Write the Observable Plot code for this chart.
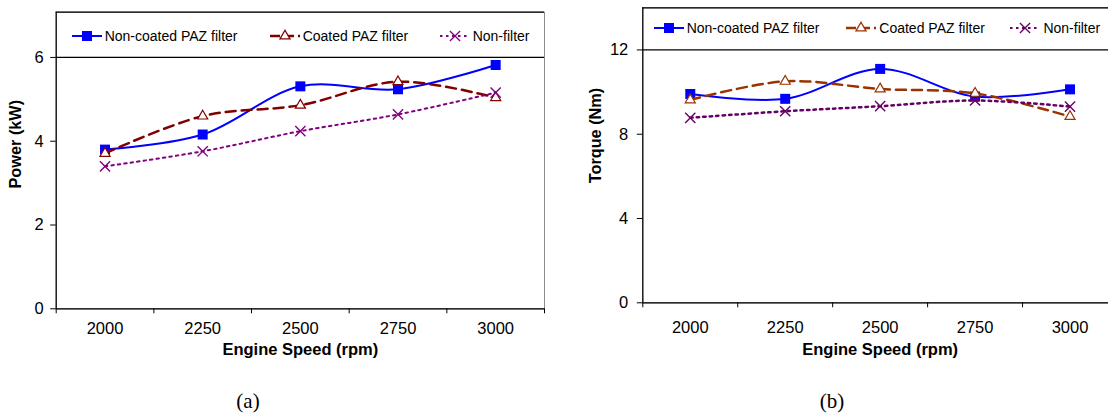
<!DOCTYPE html>
<html><head><meta charset="utf-8">
<script src="https://cdn.jsdelivr.net/npm/d3@7"></script>
<script src="https://cdn.jsdelivr.net/npm/@observablehq/plot@0.6"></script>
<style>
body{margin:0;background:#fff;overflow:hidden}
#wrap{position:relative;width:1108px;height:415px;overflow:hidden;font-family:"Liberation Sans",Arial,sans-serif;background:#fff}
.panel{position:absolute;top:0}
.leg{position:absolute;height:16px;line-height:16px;font-size:14px;display:flex;align-items:center;white-space:nowrap;color:#000}
.leg svg{margin-right:3px}
.cap{position:absolute;font-family:"Liberation Serif","Times New Roman",serif;font-size:21px;transform:translate(-50%,-50%);white-space:nowrap}
</style></head><body><div id="wrap"></div>
<script>
// ---- data ----
const speeds = [2000, 2250, 2500, 2750, 3000];
const seriesNames = ["Non-coated PAZ filter", "Coated PAZ filter", "Non-filter"];
const powerNonCoated = [3.80, 4.16, 5.31, 5.24, 5.82];
const powerCoated    = [3.71, 4.60, 4.86, 5.42, 5.04];
const powerNonFilter = [3.40, 3.76, 4.24, 4.64, 5.16];
const torqueNonCoated = [9.91, 9.68, 11.10, 9.79, 10.13];
const torqueCoated    = [9.63, 10.51, 10.15, 9.94, 8.84];
const torqueNonFilter = [8.78, 9.09, 9.33, 9.60, 9.31];
const powerTicks = [0, 2, 4, 6];
const torqueTicks = [0, 4, 8, 12];
const xTitle = "Engine Speed (rpm)";
const powerTitle = "Power (kW)";
const torqueTitle = "Torque (Nm)";
const captions = ["(a)", "(b)"];

const wrap = document.getElementById("wrap");
const step = speeds[1] - speeds[0];
const xDomain = [speeds[0] - step / 2, speeds[speeds.length - 1] + step / 2];
const boundaries = d3.range(xDomain[0], xDomain[1] + 1, step);

function rows(values, name) {
  return speeds.map((s, i) => ({speed: s, value: values[i], series: name}));
}

function makePanel(o) {
  const [a, b, c] = o.series;
  const dA = rows(a, seriesNames[0]), dB = rows(b, seriesNames[1]), dC = rows(c, seriesNames[2]);
  const yTop = o.yDomain[1];
  const chart = Plot.plot({
    width: o.width, height: 415,
    marginLeft: o.ml, marginRight: o.mr, marginTop: o.mt, marginBottom: o.mb,
    style: {fontFamily: '"Liberation Sans", Arial, sans-serif', fontSize: "16.5px", color: "#000", background: "transparent"},
    x: {type: "linear", domain: xDomain, axis: null},
    y: {domain: o.yDomain, axis: null},
    marks: [
      Plot.frame({stroke: "#8c8c8c"}),
      Plot.ruleY([yTop], {stroke: "#000", strokeWidth: 1.2}),
      Plot.ruleY([o.legendLine], {stroke: "#000", strokeWidth: 1.2}),
      Plot.ruleX([xDomain[0]], {stroke: "#000", strokeWidth: 1.2}),
      Plot.ruleY([0], {stroke: "#000", strokeWidth: 1.2}),
      Plot.axisX({ticks: boundaries, tickSize: 5, tickFormat: () => "", label: null, stroke: "#000"}),
      Plot.axisX({ticks: speeds, tickSize: 0, tickPadding: o.xPad, tickFormat: d3.format("d"), label: null, fontSize: 16.5}),
      Plot.axisY({ticks: o.yTicks, tickSize: 5.5, tickPadding: o.yPad, label: null, fontSize: 16.5, stroke: "#000"}),
      Plot.text([xTitle], {text: d => d, frameAnchor: "bottom", dy: o.xTitleDy, fontWeight: "bold", fontSize: 16.5}),
      Plot.text([o.yTitle], {text: d => d, frameAnchor: "left", rotate: -90, dx: o.yTitleDx, dy: o.yTitleDy, fontWeight: "bold", fontSize: 16.3}),
      Plot.line(dA, {x: "speed", y: "value", stroke: "#0000ff", strokeWidth: 2, curve: "catmull-rom"}),
      Plot.dot(dA, {x: "speed", y: "value", symbol: "square", r: 5.64, fill: "#0000ff", stroke: "none"}),
      Plot.line(dB, {x: "speed", y: "value", stroke: o.colB, strokeWidth: 2.5, strokeDasharray: "10,6", curve: "catmull-rom"}),
      Plot.dot(dB, {x: "speed", y: "value", symbol: "triangle2", r: 4.8, fill: "#fff", stroke: o.colB, strokeWidth: 1.2}),
      Plot.line(dC, {x: "speed", y: "value", stroke: o.colC, strokeWidth: o.cw, strokeDasharray: "2.5,4", curve: "catmull-rom"}),
      Plot.dot(dC, {x: "speed", y: "value", symbol: "times", r: 4.7, stroke: o.colC, strokeWidth: 1.4})
    ]
  });
  chart.classList.add("panel");
  chart.style.left = o.left + "px";
  wrap.appendChild(chart);

  // legend (HTML overlay inside the box)
  const styles = [
    {color: "#0000ff", dash: null, sym: d3.symbolSquare, size: 100, fill: "#0000ff", stroke: "none", w: 2},
    {color: o.colB, dash: "10,4", sym: d3.symbolTriangle2, size: 72, fill: "#fff", stroke: o.colB, w: 2.5},
    {color: o.colC, dash: "2.5,3.5", sym: d3.symbolTimes, size: 69, fill: "none", stroke: o.colC, w: 2}
  ];
  seriesNames.forEach((name, i) => {
    const s = styles[i];
    const div = document.createElement("div");
    div.className = "leg";
    div.style.left = o.legX[i] + "px";
    div.style.top = (o.legY - 8) + "px";
    const svg = d3.create("svg").attr("width", 30).attr("height", 16);
    svg.append("line").attr("x1", 0).attr("x2", 30).attr("y1", 8).attr("y2", 8)
      .attr("stroke", s.color).attr("stroke-width", s.w).attr("stroke-dasharray", s.dash);
    svg.append("path").attr("transform", "translate(15,8)").attr("d", d3.symbol(s.sym, s.size)())
      .attr("fill", s.fill).attr("stroke", s.stroke).attr("stroke-width", 1.3);
    div.appendChild(svg.node());
    div.appendChild(document.createTextNode(name));
    wrap.appendChild(div);
  });
  const cap = document.createElement("div");
  cap.className = "cap";
  cap.textContent = o.caption;
  cap.style.left = o.capX + "px";
  cap.style.top = "401px";
  wrap.appendChild(cap);
}

makePanel({
  left: 0, width: 560, ml: 55.7, mr: 16, mt: 11.7, mb: 106.7,
  series: [powerNonCoated, powerCoated, powerNonFilter],
  yDomain: [0, 7.08], yTicks: powerTicks, legendLine: powerTicks[3],
  yTitle: powerTitle, xPad: 13, yPad: 7, xTitleDy: 46, yTitleDx: -40.7, yTitleDy: 28,
  colB: "#800000", colC: "#800080", cw: 2,
  legX: [71.7, 269.7, 439.7], legY: 36, caption: captions[0], capX: 248
});
makePanel({
  left: 560, width: 560, ml: 82.3, mr: 3, mt: 7.3, mb: 112.7,
  series: [torqueNonCoated, torqueCoated, torqueNonFilter],
  yDomain: [0, 14], yTicks: torqueTicks, legendLine: torqueTicks[3],
  yTitle: torqueTitle, xPad: 18, yPad: 9, xTitleDy: 52, yTitleDx: -47.3, yTitleDy: 28,
  colB: "#993300", colC: "#660066", cw: 2.5,
  legX: [653.7, 846.3, 1010.4], legY: 28.3, caption: captions[1], capX: 832
});
</script></body></html>
